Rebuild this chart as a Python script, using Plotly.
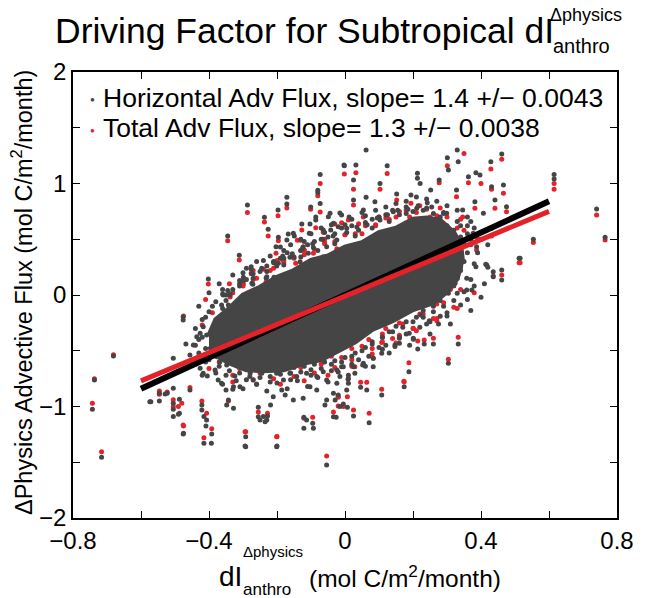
import plotly.graph_objects as go

# ---------------- data ----------------
# dense, saturated centre of the cloud (outline of the solid grey region)
core_x = [-0.40, -0.38, -0.34, -0.30, -0.25, -0.20, -0.15, -0.10, -0.05, 0.00, 0.05, 0.10, 0.15,
          0.20, 0.24, 0.28, 0.32, 0.34, 0.345, 0.33, 0.30, 0.26, 0.20, 0.14, 0.08, 0.03, -0.02,
          -0.07, -0.12, -0.18, -0.24, -0.29, -0.34, -0.38, -0.40]
core_y = [-0.36, -0.22, -0.12, 0.00, 0.07, 0.16, 0.22, 0.31, 0.35, 0.43, 0.47, 0.56, 0.60,
          0.68, 0.69, 0.67, 0.56, 0.45, 0.32, 0.15, 0.03, -0.07, -0.13, -0.23, -0.31, -0.42, -0.50,
          -0.58, -0.61, -0.67, -0.68, -0.67, -0.61, -0.54, -0.46]

# Horizontal advective flux (grey points), scattered ones
horiz_x = [
    -0.002, -0.073, -0.080, -0.080, -0.073, -0.171, -0.171, -0.287, -0.237, -0.226, -0.197, -0.101,
    -0.345, -0.311, -0.276, -0.276, -0.402, -0.360, -0.338, -0.299, -0.299, -0.271, -0.232, -0.209,
    -0.203, -0.196, -0.167, -0.149, -0.127, -0.103, -0.105, -0.086, -0.086, -0.064, -0.044, -0.010,
    0.012, -0.183, -0.196, -0.162, -0.123, -0.093, -0.054, -0.024, -0.230, -0.289, -0.274, -0.230,
    -0.201, -0.162, -0.123, -0.132, -0.108, -0.171, -0.152, -0.049, -0.034, -0.020, -0.042,
    0.062, -0.003, 0.032, 0.124, 0.301, 0.330, 0.333, 0.461, 0.429, 0.385, 0.363, 0.466, 0.431,
    0.397, 0.304, 0.277, 0.213, 0.221, 0.213, 0.252, 0.103, 0.025, 0.025, 0.062, 0.088, 0.152,
    0.194, 0.242, 0.328, 0.382, 0.441, 0.475, 0.407, 0.346, 0.299, 0.279, 0.431, 0.377, 0.387,
    0.417, 0.515, 0.461, 0.461, 0.436, 0.554, 0.385, 0.324, 0.324, 0.358, 0.304, 0.289, -0.015,
    0.005, 0.054, 0.103, 0.142, 0.211, 0.615, 0.615, 0.740, 0.765, 0.512, 0.436, 0.414, 0.373, 0.358,
    0.333, 0.304, 0.188, 0.174, 0.260, 0.233, 0.214, 0.201, 0.250, 0.275, 0.147, 0.108, 0.108,
    0.064, 0.046, 0.071, 0.025, 0.007, -0.026, -0.034, 0.083, 0.054, 0.029, 0.010, -0.015, 0.300,
    0.248, 0.223, 0.160, 0.160, 0.147, 0.201, 0.189, 0.110, 0.083, 0.052, 0.025, 0.009, -0.010,
    0.300, 0.330,
    -0.476, -0.476, -0.505, -0.574, -0.546, -0.529, -0.505, -0.487, -0.505, -0.487, -0.476, -0.456,
    -0.421, -0.421, -0.415, -0.407, -0.415, -0.393, -0.409, -0.392, -0.348, -0.343, -0.328, -0.350,
    -0.330, -0.292, -0.292, -0.255, -0.255, -0.235, -0.228, -0.201, -0.219, -0.211, -0.186, -0.176,
    -0.152, -0.123, -0.121, -0.113, -0.121, -0.093, -0.095, -0.059, -0.054, -0.029, -0.020, -0.015,
    -0.005, -0.034, -0.103, -0.083, -0.054, -0.024, 0.005, -0.358, -0.338, -0.363, -0.343, -0.417,
    -0.436, -0.446, -0.468, -0.426, -0.407, -0.456, -0.446, -0.426, -0.417, -0.405, -0.382, -0.373,
    -0.363, -0.324, -0.309, -0.328, -0.279, -0.270, -0.245, -0.201, -0.181, -0.162, -0.142, -0.113,
    -0.083, -0.064, -0.024, -0.005, -0.377, -0.368, -0.348,
    -0.681, -0.737, -0.743, -0.716, -0.571, -0.546, -0.523, -0.505, -0.505, -0.490, -0.475,
    -0.294, -0.200, -0.054, -0.250, -0.230, -0.240]
horiz_y = [
    1.160, 1.080, 0.940, 0.920, 0.820, 0.876, 0.816, 0.807, 0.697, 0.590, 0.762, 0.790,
    0.530, 0.356, 0.254, 0.230, 0.143, 0.009, 0.009, 0.159, 0.128, 0.096, 0.152, 0.159,
    0.433, 0.517, 0.547, 0.530, 0.637, 0.637, 0.553, 0.700, 0.673, 0.583, 0.733, 0.717,
    0.700, 0.350, 0.284, 0.338, 0.433, 0.427, 0.433, 0.493, 0.057, -0.015, 0.105, 0.164,
    0.260, 0.135, 0.195, 0.299, 0.374, 0.493, 0.553, 0.702, 0.643, 0.613, 0.583,
    1.300, 1.166, 1.166, 1.160, 1.230, 1.300, 1.195, 1.265, 1.195, 1.097, 1.061, 0.987, 0.971,
    1.076, 1.121, 1.031, 1.091, 1.000, 1.046, 0.942, 1.000, 1.031, 0.852, 0.876, 0.837, 0.906,
    0.897, 0.828, 0.942, 0.837, 0.852, 0.792, 0.733, 0.762, 0.733, 0.673, 0.598, 0.553, 0.433,
    0.269, 0.329, 0.224, 0.135, 0.164, 0.500, 0.254, 0.164, 0.105, 0.045, 0.015, 0.164, 0.735,
    0.598, 0.762, 0.673, 0.747, 0.777, 1.080, 1.040, 0.771, 0.517, 0.329, 0.209, 0.275, 0.045, 0.150,
    -0.440, -0.613, -0.688, -0.822, -0.440, -0.440, -0.484, -0.389, -0.239, -0.260, -0.448, -0.523, -0.897,
    -0.852, -0.828, -1.145, -1.085, -1.007, -1.097, -0.882, -0.643, -0.613, -0.702, -0.792, -0.732, -0.188,
    -0.230, -0.179, -0.389, -0.433, -0.463, -0.397, -0.344, -0.487, -0.568, -0.628, -0.643, -0.756, -0.643,
    0.045, 0.015,
    -0.195, -0.224, -0.568, -0.957, -0.882, -0.888, -0.971, -0.935, -1.090, -1.060, -1.247, -0.852,
    -0.987, -1.031, -1.090, -1.121, -1.330, -1.330, -1.175, -1.247, -0.987, -0.942, -1.016, -0.852,
    -0.846, -1.271, -1.360, -1.091, -1.007, -1.136, -1.085, -1.360, -0.987, -0.912, -0.852, -0.897,
    -0.942, -0.927, -1.097, -1.121, -1.196, -1.196, -1.151, -0.987, -0.942, -0.942, -0.897, -1.000,
    -0.978, -1.091, -0.822, -0.852, -0.762, -0.792, -0.852, 0.000, 0.000, -0.090, -0.090, -0.284,
    -0.374, -0.448, -0.439, -0.344, -0.359, -0.538, -0.598, -0.657, -0.702, -0.726, -0.673, -0.762,
    -0.792, -0.726, -0.822, -0.822, -0.702, -0.762, -0.702, -0.702, -0.762, -0.702, -0.732, -0.702,
    -0.732, -0.688, -0.673, -0.643, -0.553, -0.598, -0.628,
    -0.547, -0.762, -1.025, -1.456, -0.957, -0.951, -0.882, -0.837, -1.025, -1.070, -1.241,
    -1.355, -1.355, -1.525, -1.120, -1.120, -1.090]

# Horizontal advective flux, crowded points fringing the solid centre
horiz_dense_x = [
    -0.44, -0.42, -0.40, -0.43, -0.41, -0.39, -0.37, -0.36, -0.35, -0.33, -0.31, -0.29, -0.27,
    -0.25, -0.23, -0.21, -0.19, -0.17, -0.15, -0.13, -0.11, -0.09, -0.07, -0.05, -0.03, -0.01,
    0.02, 0.04, 0.06, 0.08, 0.10, 0.12, 0.14, 0.16, 0.18, 0.20, 0.24, 0.26, 0.28, 0.30, 0.32,
    0.34, 0.35, 0.36, 0.35, 0.34, 0.33, 0.32, 0.30, 0.28, 0.26, 0.23, 0.21, 0.18, 0.15, 0.13,
    0.11, 0.08, 0.06, 0.03, 0.00, -0.03, -0.06, -0.09, -0.12, -0.15, -0.18, -0.21, -0.24, -0.27,
    -0.30, -0.33, -0.35, -0.37,
    -0.41, -0.38, -0.345, -0.31, -0.275, -0.245, -0.21, -0.18, -0.155, -0.125, -0.095, -0.065,
    -0.035, 0.005, 0.035, 0.065, 0.095, 0.125, 0.155, 0.185, 0.215, 0.255, 0.29, 0.33, 0.36,
    -0.40, -0.37, -0.34, -0.31, -0.28, -0.25, -0.22, -0.19, -0.16, -0.13, -0.10, -0.07, -0.04,
    -0.01, 0.02, 0.05, 0.08, 0.11, 0.14, 0.17, 0.20, 0.23, 0.26, 0.29, 0.32, 0.35, 0.37,
    -0.38, -0.32, -0.26, -0.20, -0.14, -0.08, -0.02, 0.04, 0.10, 0.16, 0.22, 0.28, 0.34,
    -0.36, -0.30, -0.24, -0.18, -0.12, -0.06, 0.00, 0.06, 0.12, 0.18, 0.24, 0.30, 0.36, 0.38,
    0.37, 0.39, 0.38, 0.40, 0.36, -0.42, -0.44, -0.43, -0.41,
    -0.43, -0.40, -0.37, -0.33, -0.29, -0.26, -0.22, -0.19, -0.16, -0.13, -0.10, -0.07, -0.04,
    0.02, 0.05, 0.09, 0.15, 0.21, 0.27, 0.33, 0.37, 0.40, 0.42,
    -0.44, -0.42, -0.36, -0.30, -0.23, -0.17, -0.11, -0.05, 0.01, 0.06, 0.13, 0.19, 0.25, 0.31,
    0.37, 0.40, 0.41, 0.42,
    -0.35, -0.29, -0.22, -0.16, -0.10, -0.04, 0.02, 0.07, 0.12, 0.18, 0.24, 0.30, 0.36, 0.38,
    -0.39, -0.35, -0.31, -0.27, -0.23, -0.18, -0.13, -0.08, -0.03, 0.03, 0.08, 0.13, 0.18, 0.23,
    0.29, 0.34, 0.37]
horiz_dense_y = [
    -0.30, -0.22, -0.15, -0.40, -0.48, -0.55, -0.25, -0.12, -0.05, 0.05, 0.10, 0.14, 0.19,
    0.21, 0.26, 0.30, 0.33, 0.38, 0.34, 0.40, 0.45, 0.48, 0.50, 0.52, 0.55, 0.60,
    0.62, 0.58, 0.65, 0.68, 0.70, 0.72, 0.76, 0.72, 0.79, 0.75, 0.78, 0.73, 0.70, 0.62, 0.58,
    0.52, 0.45, 0.38, 0.30, 0.22, 0.15, 0.08, 0.03, -0.05, -0.10, -0.14, -0.20, -0.24, -0.28,
    -0.33, -0.38, -0.42, -0.47, -0.52, -0.56, -0.59, -0.60, -0.62, -0.64, -0.65, -0.66, -0.67,
    -0.65, -0.66, -0.64, -0.60, -0.56, -0.50,
    -0.20, -0.06, 0.04, 0.13, 0.19, 0.24, 0.29, 0.33, 0.37, 0.42, 0.46, 0.50,
    0.53, 0.56, 0.61, 0.63, 0.69, 0.72, 0.76, 0.77, 0.80, 0.79, 0.74, 0.66, 0.55,
    -0.58, -0.64, -0.68, -0.70, -0.73, -0.74, -0.73, -0.71, -0.70, -0.69, -0.67, -0.66, -0.62,
    -0.60, -0.55, -0.50, -0.44, -0.38, -0.33, -0.29, -0.24, -0.20, -0.15, -0.10, -0.05, 0.03, 0.14,
    -0.70, -0.77, -0.80, -0.79, -0.77, -0.74, -0.69, -0.58, -0.47, -0.38, -0.29, -0.19, -0.09,
    0.05, 0.20, 0.31, 0.40, 0.48, 0.56, 0.63, 0.71, 0.79, 0.84, 0.86, 0.80, 0.70, 0.60,
    0.45, 0.38, 0.28, 0.50, 0.62, -0.38, -0.45, -0.52, -0.60,
    -0.10, 0.02, 0.10, 0.18, 0.24, 0.30, 0.35, 0.43, 0.45, 0.50, 0.55, 0.60, 0.63,
    0.68, 0.74, 0.76, 0.82, 0.88, 0.84, 0.76, 0.66, 0.56, 0.45,
    -0.62, -0.72, -0.80, -0.84, -0.86, -0.84, -0.82, -0.78, -0.72, -0.64, -0.52, -0.45, -0.35, -0.26,
    -0.14, -0.02, 0.10, 0.25,
    -0.72, -0.76, -0.78, -0.76, -0.72, -0.68, -0.62, -0.55, -0.45, -0.35, -0.26, -0.16, -0.04, 0.08,
    -0.10, 0.00, 0.08, 0.15, 0.21, 0.27, 0.34, 0.40, 0.46, 0.53, 0.60, 0.66, 0.73, 0.76,
    0.73, 0.62, 0.50]

# Total advective flux (red points), scattered ones
total_x = [
    -0.002, -0.073, -0.080, -0.073, -0.171, -0.287, -0.237, -0.226, -0.197, -0.101, -0.345, -0.311,
    -0.276, -0.402, -0.338, -0.299, -0.232, -0.209, -0.203, -0.196, -0.140, -0.127, -0.130, -0.086,
    -0.064, -0.030, -0.010, 0.010, -0.183, -0.145, -0.120, -0.093, -0.064, -0.024, -0.230, -0.475,
    0.032, 0.124, 0.350, 0.461, 0.429, 0.363, 0.466, 0.431, 0.400, 0.277, 0.103, 0.025, 0.025, 0.152,
    0.194, 0.328, 0.382, 0.441, 0.475, 0.346, 0.279, 0.431, 0.387, 0.515, 0.461, 0.554, 0.054, 0.615,
    0.615, 0.740, 0.765, 0.512, 0.436, 0.301,
    0.333, 0.304, 0.188, 0.174, 0.260, 0.233, 0.214, 0.201, 0.108, 0.108, 0.064, 0.046, 0.071, 0.025,
    0.007, -0.020, -0.020, 0.083, 0.029, 0.010, 0.110, 0.173, 0.270, 0.160,
    -0.546, -0.505, -0.480, -0.476, -0.456, -0.421, -0.407, -0.415, -0.392, -0.343, -0.292, -0.255,
    -0.228, -0.201, -0.121, -0.095, -0.020, -0.005, -0.034, -0.681, -0.737, -0.743, -0.716, -0.546,
    -0.523, -0.505, -0.490, -0.475, -0.054, -0.294, -0.200]
total_y = [
    1.085, 1.000, 0.890, 0.745, 0.780, 0.740, 0.655, 0.530, 0.710, 0.770, 0.487, 0.314,
    0.195, 0.099, -0.018, 0.096, 0.117, 0.126, 0.374, 0.487, 0.490, 0.583, 0.490, 0.603,
    0.562, 0.637, 0.648, 0.673, 0.314, 0.284, 0.404, 0.374, 0.343, 0.415, 0.033, -0.188,
    1.097, 1.090, 1.270, 1.217, 1.130, 1.007, 0.912, 0.948, 1.000, 1.007, 0.948, 0.948, 0.807, 0.852,
    0.822, 0.882, 0.777, 0.777, 0.747, 0.700, 0.628, 0.529, 0.404, 0.290, 0.179, 0.470, 0.700, 1.000,
    0.948, 0.717, 0.493, 0.290, 0.170, 1.160,
    -0.380, -0.577, -0.607, -0.777, -0.389, -0.404, -0.413, -0.299, -0.425, -0.846, -0.783, -0.783, -1.061, -1.031,
    -0.912, -0.996, -0.918, -0.568, -0.643, -0.747, -0.419, -0.774, -0.210, -0.360,
    -0.860, -1.000, -0.970, -1.166, -0.830, -0.950, -1.060, -1.280, -1.200, -0.950, -1.226, -1.050,
    -1.060, -1.271, -1.106, -1.097, -0.910, -1.000, -1.050, -0.535, -0.750, -0.971, -1.405, -0.890,
    -0.870, -0.940, -1.000, -1.175, -1.444, -1.226, -1.270]

# Total advective flux, crowded points fringing the solid centre
total_dense_x = [
    -0.42, -0.38, -0.35, -0.30, -0.26, -0.22, -0.18, -0.12, -0.06, 0.00, 0.05, 0.09, 0.13, 0.19,
    0.25, 0.29, 0.33, 0.34, 0.31, 0.27, 0.22, 0.16, 0.12, 0.07, 0.02, -0.04, -0.10, -0.16, -0.22,
    -0.28, -0.32, -0.36,
    -0.37, -0.31, -0.25, -0.19, -0.13, -0.07, -0.01, 0.05, 0.11, 0.17, 0.23, 0.29, 0.34,
    -0.33, -0.27, -0.21, -0.15, -0.09, -0.03, 0.02, 0.08, 0.14, 0.20, 0.26, 0.32,
    -0.39, -0.33, -0.27, -0.21, -0.15, -0.09, -0.03, 0.03, 0.09, 0.15, 0.21, 0.27, 0.33,
    -0.30, -0.24, -0.18, -0.12, -0.06, 0.00, 0.06, 0.12, 0.18, 0.24, 0.30, 0.35,
    -0.41, -0.34, -0.27, -0.20, -0.13, -0.06, 0.04, 0.10, 0.16, 0.22, 0.28, 0.34, 0.39,
    -0.40, -0.33, -0.26, -0.19, -0.12, -0.05, 0.02, 0.08, 0.15, 0.21, 0.27, 0.33, 0.38]
total_dense_y = [
    -0.27, -0.44, -0.20, 0.08, 0.15, 0.22, 0.29, 0.36, 0.46, 0.54, 0.55, 0.62, 0.68, 0.70,
    0.70, 0.60, 0.45, 0.25, 0.05, -0.08, -0.17, -0.25, -0.30, -0.40, -0.48, -0.55, -0.58, -0.60,
    -0.62, -0.60, -0.55, -0.47,
    -0.60, -0.66, -0.70, -0.67, -0.65, -0.62, -0.56, -0.46, -0.35, -0.26, -0.17, -0.07, 0.05,
    -0.72, -0.76, -0.75, -0.73, -0.70, -0.65, -0.58, -0.48, -0.39, -0.30, -0.21, -0.11,
    -0.16, 0.02, 0.14, 0.24, 0.33, 0.41, 0.48, 0.55, 0.63, 0.70, 0.74, 0.71, 0.60,
    0.12, 0.23, 0.31, 0.40, 0.47, 0.54, 0.62, 0.69, 0.76, 0.77, 0.70, 0.58,
    -0.04, 0.10, 0.22, 0.31, 0.40, 0.50, 0.64, 0.70, 0.75, 0.80, 0.78, 0.68, 0.50,
    -0.66, -0.78, -0.80, -0.80, -0.77, -0.72, -0.64, -0.53, -0.43, -0.32, -0.23, -0.12, 0.02]

# least-squares fit lines
fit_x = [-0.6, 0.6]
horiz_fit_y = [-0.84, 0.84]
total_fit_y = [-0.77, 0.75]

# axis ticks
x_tickvals = [-0.8, -0.6, -0.4, -0.2, 0.0, 0.2, 0.4, 0.6, 0.8]
x_ticktext = ["\u22120.8", "", "\u22120.4", "", "0", "", "0.4", "", "0.8"]
y_tickvals = [-2, -1.5, -1, -0.5, 0, 0.5, 1, 1.5, 2]
y_ticktext = ["\u22122", "", "\u22121", "", "0", "", "1", "", "2"]

legend_labels = ["Horizontal Adv Flux, slope= 1.4 +/\u2212 0.0043",
                 "Total Adv Flux, slope= 1.3 +/\u2212 0.0038"]

# ---------------- styling ----------------
GREY = "#454545"
RED = "#e5222a"
FONT = "Liberation Sans, Arial, Helvetica, sans-serif"
W, H = 670, 598
L, R, T, B = 73, 53, 72, 80
PW, PH = W - L - R, H - T - B


def px(x):
    return (x - L) / PW


def py(y):
    return (H - B - y) / PH


fig = go.Figure()
fig.add_trace(go.Scatter(x=total_x + total_dense_x, y=total_y + total_dense_y, mode="markers",
                         marker=dict(color=RED, size=5, line=dict(width=0)),
                         name=legend_labels[1], showlegend=False))
fig.add_trace(go.Scatter(x=core_x, y=core_y, mode="lines", fill="toself",
                         fillcolor=GREY, line=dict(color=GREY, width=5),
                         hoverinfo="skip", showlegend=False))
fig.add_trace(go.Scatter(x=horiz_x + horiz_dense_x, y=horiz_y + horiz_dense_y, mode="markers",
                         marker=dict(color=GREY, size=5, line=dict(width=0)),
                         name=legend_labels[0], showlegend=False))
fig.add_trace(go.Scatter(x=fit_x, y=horiz_fit_y, mode="lines",
                         line=dict(color="black", width=6), showlegend=False))
fig.add_trace(go.Scatter(x=fit_x, y=total_fit_y, mode="lines",
                         line=dict(color=RED, width=5), showlegend=False))

axis_common = dict(showline=True, linecolor="black", linewidth=1.5, mirror="ticks",
                   ticks="inside", ticklen=7, tickwidth=1, tickcolor="black",
                   showgrid=False, zeroline=False,
                   tickfont=dict(family=FONT, size=24, color="black"))
fig.update_xaxes(range=[-0.8, 0.8], tickvals=x_tickvals, ticktext=x_ticktext, **axis_common)
fig.update_yaxes(range=[-2, 2], tickvals=y_tickvals, ticktext=y_ticktext, **axis_common)

ann = []
# title
ann.append(dict(text="Driving Factor for Subtropical dI", x=px(556), y=py(31), xref="paper", yref="paper",
                xanchor="right", yanchor="middle", showarrow=False,
                font=dict(family=FONT, size=35.5, color="black")))
ann.append(dict(text="\u0394physics", x=px(548), y=py(15), xref="paper", yref="paper",
                xanchor="left", yanchor="middle", showarrow=False,
                font=dict(family=FONT, size=18, color="black")))
ann.append(dict(text="anthro", x=px(551), y=py(46), xref="paper", yref="paper",
                xanchor="left", yanchor="middle", showarrow=False,
                font=dict(family=FONT, size=20, color="black")))
# legend
for i, (lab, col) in enumerate(zip(legend_labels, [GREY, RED])):
    yy = 98 + 30 * i
    ann.append(dict(text="\u25cf", x=px(92), y=py(yy + 2), xref="paper", yref="paper",
                    xanchor="center", yanchor="middle", showarrow=False,
                    font=dict(family=FONT, size=8, color=col)))
    ann.append(dict(text=lab, x=px(101), y=py(yy), xref="paper", yref="paper",
                    xanchor="left", yanchor="middle", showarrow=False,
                    font=dict(family=FONT, size=26.5, color="black")))
# y axis title
ann.append(dict(text="\u0394Physics Advective Flux (mol C/m<sup>2</sup>/month)", x=px(22), y=py(293),
                xref="paper", yref="paper", textangle=-90, xanchor="center", yanchor="middle",
                showarrow=False, font=dict(family=FONT, size=23.5, color="black")))
# x axis title
ann.append(dict(text="dI", x=px(244), y=py(576), xref="paper", yref="paper",
                xanchor="right", yanchor="middle", showarrow=False,
                font=dict(family=FONT, size=28, color="black")))
ann.append(dict(text="\u0394physics", x=px(241), y=py(551), xref="paper", yref="paper",
                xanchor="left", yanchor="middle", showarrow=False,
                font=dict(family=FONT, size=15, color="black")))
ann.append(dict(text="anthro", x=px(241), y=py(589), xref="paper", yref="paper",
                xanchor="left", yanchor="middle", showarrow=False,
                font=dict(family=FONT, size=17, color="black")))
ann.append(dict(text="(mol C/m<sup>2</sup>/month)", x=px(307), y=py(576), xref="paper", yref="paper",
                xanchor="left", yanchor="middle", showarrow=False,
                font=dict(family=FONT, size=24.5, color="black")))

fig.update_layout(width=W, height=H, margin=dict(l=L, r=R, t=T, b=B),
                  paper_bgcolor="white", plot_bgcolor="white", showlegend=False,
                  annotations=ann, font=dict(family=FONT))
fig.write_html("out.html")
